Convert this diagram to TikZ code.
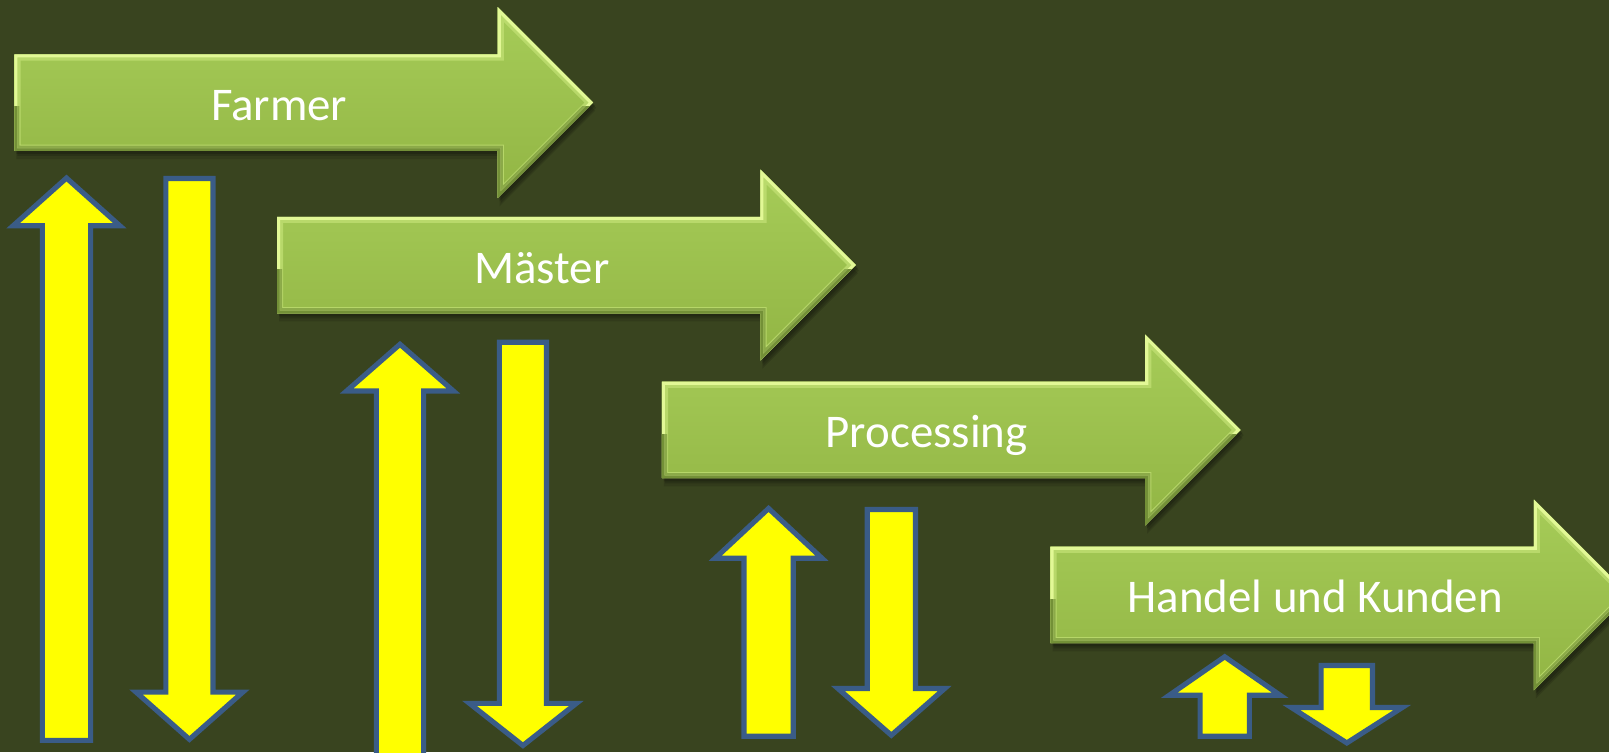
\documentclass[tikz,border=0pt]{standalone}
\usepackage{fontspec}
\setmainfont{Carlito}
\definecolor{bg}{RGB}{57,68,31}
\definecolor{grntop}{RGB}{166,204,88}
\definecolor{grnbot}{RGB}{146,181,68}
\definecolor{grnhi}{RGB}{226,248,150}
\definecolor{grnmid}{RGB}{196,226,118}
\definecolor{grndk}{RGB}{104,134,46}
\definecolor{ylw}{RGB}{255,255,0}
\definecolor{blu}{RGB}{58,92,135}
\tikzset{
  flowfill/.style={top color=grntop, bottom color=grnbot},
  updown/.style={fill=ylw, draw=blu, line width=0.1cm, line join=miter},
  lbl/.style={text=white, font=\fontsize{26}{30}\selectfont, inner sep=0pt, anchor=base},
}
\def\flowshape{(0,-47) -- (471,-47) -- (471,-93) -- (564,0) -- (471,93) -- (471,47) -- (0,47) -- cycle}
% #1 left x, #2 centre y, #3 node name, #4 text
\newcommand\flowarrow[4]{%
  \begin{scope}[shift={(#1,#2)}]
    \fill[black, opacity=0.12, shift={(2,8)}] \flowshape;
    \fill[black, opacity=0.14, shift={(3,5)}] \flowshape;
    \fill[black, opacity=0.16, shift={(2,3)}] \flowshape;
    \begin{scope}
      \clip \flowshape;
      \shade[flowfill] \flowshape;
      \draw[grnmid, line width=0.24cm, opacity=0.7] \flowshape;
      \draw[grnhi, line width=0.12cm] \flowshape;
      \begin{scope}
        \clip (-10,4) rectangle (600,120);
        \draw[grndk, line width=0.2cm, opacity=0.55] \flowshape;
        \draw[grndk, line width=0.1cm, opacity=0.8] \flowshape;
      \end{scope}
    \end{scope}
    \node[lbl] (#3) at (258,17.5) {#4};
  \end{scope}}
% up arrow: #1 cx, #2 tip y, #3 head base y, #4 bottom y, #5 head half, #6 shaft half
\newcommand\yup[6]{%
  \draw[updown] (#1,#2) -- ({#1+#5},#3) -- ({#1+#6},#3) -- ({#1+#6},#4)
    -- ({#1-#6},#4) -- ({#1-#6},#3) -- ({#1-#5},#3) -- cycle;}
% down arrow: #1 cx, #2 top y, #3 head top y, #4 tip y, #5 head half, #6 shaft half
\newcommand\ydown[6]{%
  \draw[updown] ({#1-#6},#2) -- ({#1+#6},#2) -- ({#1+#6},#3) -- ({#1+#5},#3)
    -- (#1,#4) -- ({#1-#5},#3) -- ({#1-#6},#3) -- cycle;}
\begin{document}
\begin{tikzpicture}[x=0.02cm, y=-0.02cm]
  \useasboundingbox (0,0) rectangle (1568,733);
  \fill[bg] (0,0) rectangle (1568,733);
  \clip (0,0) rectangle (1568,733);
  \flowarrow{14}{100}{farmer}{Farmer}
  \flowarrow{270}{258.3}{maester}{Mäster}
  \flowarrow{645}{419}{processing}{Processing}
  \flowarrow{1023.7}{579.8}{handel}{Handel und Kunden}
  \yup{64.8}{173.5}{220}{721.5}{52}{23.5}
  \ydown{184.6}{174}{674.5}{720.5}{52}{23}
  \yup{389.8}{335.5}{381}{745}{52}{23}
  \ydown{509.6}{333.5}{685.5}{726.5}{52}{23}
  \yup{749}{495.5}{544}{717.5}{52}{24}
  \ydown{868.6}{496.5}{671}{716.5}{52}{23.5}
  \yup{1193.5}{640}{677.5}{717.5}{54}{24}
  \ydown{1312.5}{648.5}{689.5}{724}{54}{25}
\end{tikzpicture}
\end{document}
